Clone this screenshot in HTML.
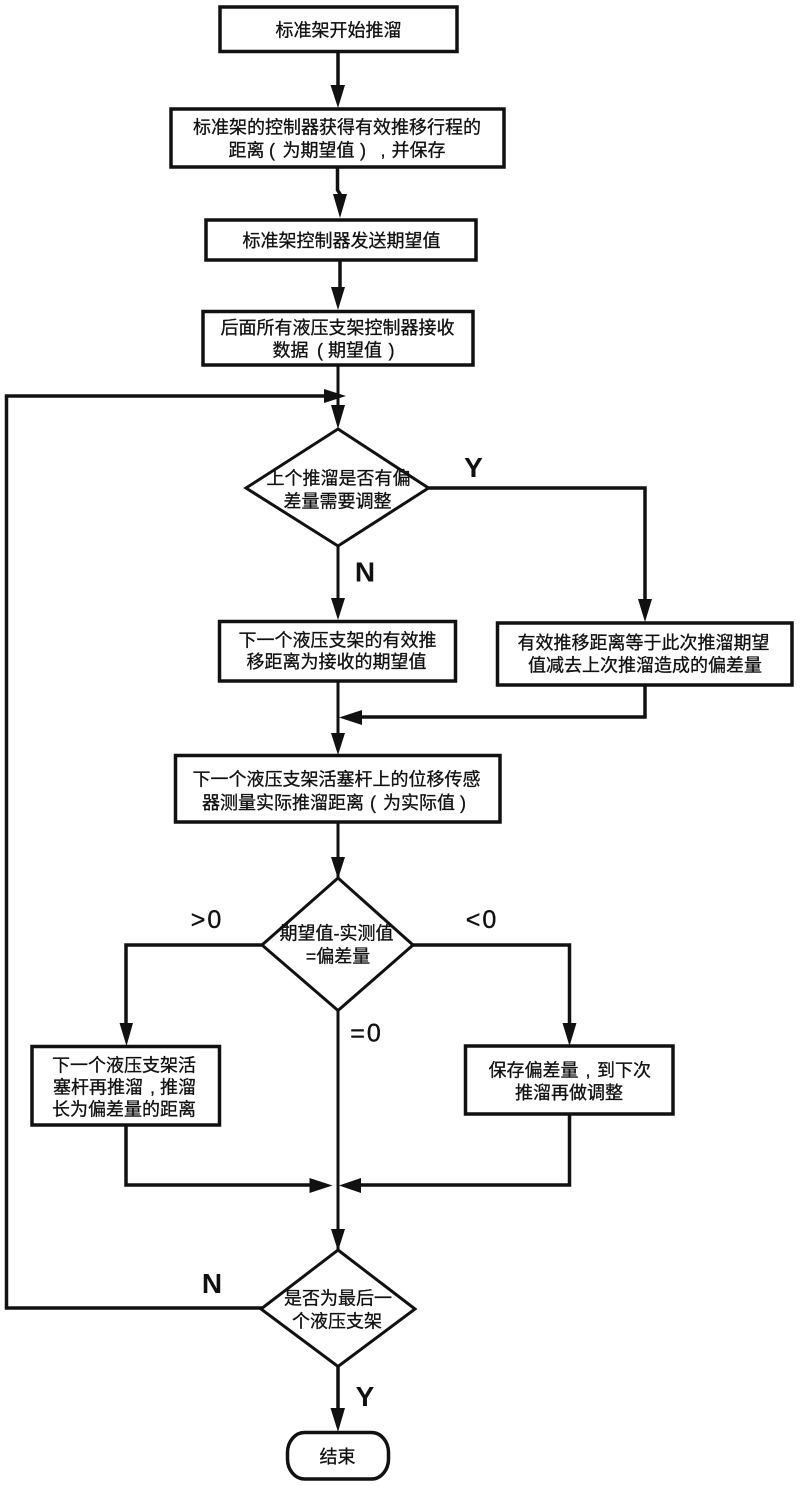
<!DOCTYPE html>
<html>
<head>
<meta charset="utf-8">
<style>
html,body{margin:0;padding:0;background:#fff;}
svg{display:block;}
text{font-family:"Liberation Sans","Noto Sans CJK SC",sans-serif;fill:#111;stroke:#111;stroke-width:.3;text-anchor:middle;font-size:18px;}
.b{font-weight:bold;font-size:28px;stroke:none;}
.l{font-size:25px;letter-spacing:2px;stroke-width:.4;}
.s{fill:#fff;stroke:#111;stroke-width:3.5;}
.d{fill:#fff;stroke:#111;stroke-width:3;}
.c{fill:none;stroke:#111;stroke-width:3.5;}
.t{fill:none;stroke:#111;stroke-width:3;}
.a{fill:#111;stroke:none;}
</style>
</head>
<body>
<svg width="800" height="1486" viewBox="0 0 800 1486" xmlns="http://www.w3.org/2000/svg">
<!-- connectors -->
<path class="c" d="M338 51V90M337.5 167V190L340 194V200M340 260V290M338 1366V1412"/>
<path class="t" d="M338 365V410M338 546V600M338 681V735M338 822V879M338 1010V1251"/>
<path class="c" d="M428 488H645V602M645 685V717H360"/>
<path class="c" d="M262 1308H6.500V396H330"/>
<path class="c" d="M262 945H126V1026M126 1125V1185H312"/>
<path class="c" d="M413 945H569.500V1026M569.500 1114V1185H358"/>
<!-- arrowheads -->
<path class="a" d="M330.500 85H345L338 108ZM333 194H347L340 218ZM331 287H345L338 310ZM331 598H345L338 620ZM331 733H345L338 755ZM331 857H345L338 879ZM331 1229H345L338 1251ZM330.500 1408H345L338 1432Z"/>
<path class="a" d="M331 405H345L338 429ZM638 599H652L645 622ZM119.500 1023H133L126.500 1046ZM562.500 1023H576.500L569.500 1046Z"/>
<path class="a" d="M324 389V403L346 396ZM362 710V725L339 717.500ZM309.500 1178V1193L332.500 1185.500ZM361 1178V1193L339 1185.500Z"/>
<!-- nodes -->
<rect class="s" x="220" y="7" width="237" height="44.500"/>
<rect class="s" x="171" y="109" width="333" height="58"/>
<rect class="s" x="206" y="220" width="270" height="40"/>
<rect class="s" x="203" y="311.500" width="270" height="53.500"/>
<path class="d" d="M338 429L428.500 488L338 546L246 488Z"/>
<rect class="s" x="219.500" y="621.500" width="236" height="59.500"/>
<rect class="s" x="497.500" y="623" width="294.500" height="62"/>
<rect class="s" x="175.500" y="755.500" width="324.500" height="66.500"/>
<path class="d" d="M338 878L413 945L338 1010.500L262 945Z"/>
<rect class="s" x="32" y="1046.500" width="187.500" height="78.500"/>
<rect class="s" x="465.500" y="1046" width="207.500" height="68"/>
<path class="d" d="M338 1250L415 1309L338 1366.500L261 1309Z"/>
<rect class="s" x="287.500" y="1432.500" width="101" height="46.500" rx="17" ry="20"/>
<!-- labels -->
<text x="338.500" y="36.500">标准架开始推溜</text>
<text x="337" y="133.500">标准架的控制器获得有效推移行程的</text>
<text x="246.500" y="156.500">距离</text>
<text x="272" y="156.500">(</text>
<text x="318.500" y="156.500">为期望值</text>
<text x="363" y="156.500">)</text>
<text x="383" y="156.500">,</text>
<text x="418.500" y="156.500">并保存</text>
<text x="341.500" y="247">标准架控制器发送期望值</text>
<text x="337.500" y="334">后面所有液压支架控制器接收</text>
<text x="290.500" y="356.500">数据</text>
<text x="320" y="356.500">(</text>
<text x="355" y="356.500">期望值</text>
<text x="391.500" y="356.500">)</text>
<text x="338.500" y="484.500">上个推溜是否有偏</text>
<text x="337.500" y="507.500">差量需要调整</text>
<text x="337.500" y="646.500">下一个液压支架的有效推</text>
<text x="336.500" y="668">移距离为接收的期望值</text>
<text x="643.500" y="649">有效推移距离等于此次推溜期望</text>
<text x="645" y="671.500">值减去上次推溜造成的偏差量</text>
<text x="336.500" y="785.500">下一个液压支架活塞杆上的位移传感</text>
<text x="283" y="809">器测量实际推溜距离</text>
<text x="373" y="809">(</text>
<text x="419" y="809">为实际值</text>
<text x="463" y="809">)</text>
<text x="336.500" y="939.500">期望值-实测值</text>
<text x="338" y="962.500">=偏差量</text>
<text x="124" y="1071.500">下一个液压支架活</text>
<text x="98" y="1093.500">塞杆再推溜</text>
<text x="152.500" y="1093.500">,</text>
<text x="178" y="1093.500">推溜</text>
<text x="124" y="1115.500">长为偏差量的距离</text>
<text x="533.500" y="1076.500">保存偏差量</text>
<text x="588" y="1076.500">,</text>
<text x="624" y="1076.500">到下次</text>
<text x="569" y="1099">推溜再做调整</text>
<text x="338" y="1304.500">是否为最后一</text>
<text x="337" y="1327.500">个液压支架</text>
<text x="337.500" y="1463">结束</text>
<text class="b" x="473.500" y="477">Y</text>
<text class="b" x="365" y="581.500">N</text>
<text class="l" x="207" y="928">&gt;0</text>
<text class="l" x="482" y="928">&lt;0</text>
<text class="l" x="366.500" y="1041.500">=0</text>
<text class="b" x="212" y="1293">N</text>
<text class="b" x="365" y="1406">Y</text>
</svg>
</body>
</html>
